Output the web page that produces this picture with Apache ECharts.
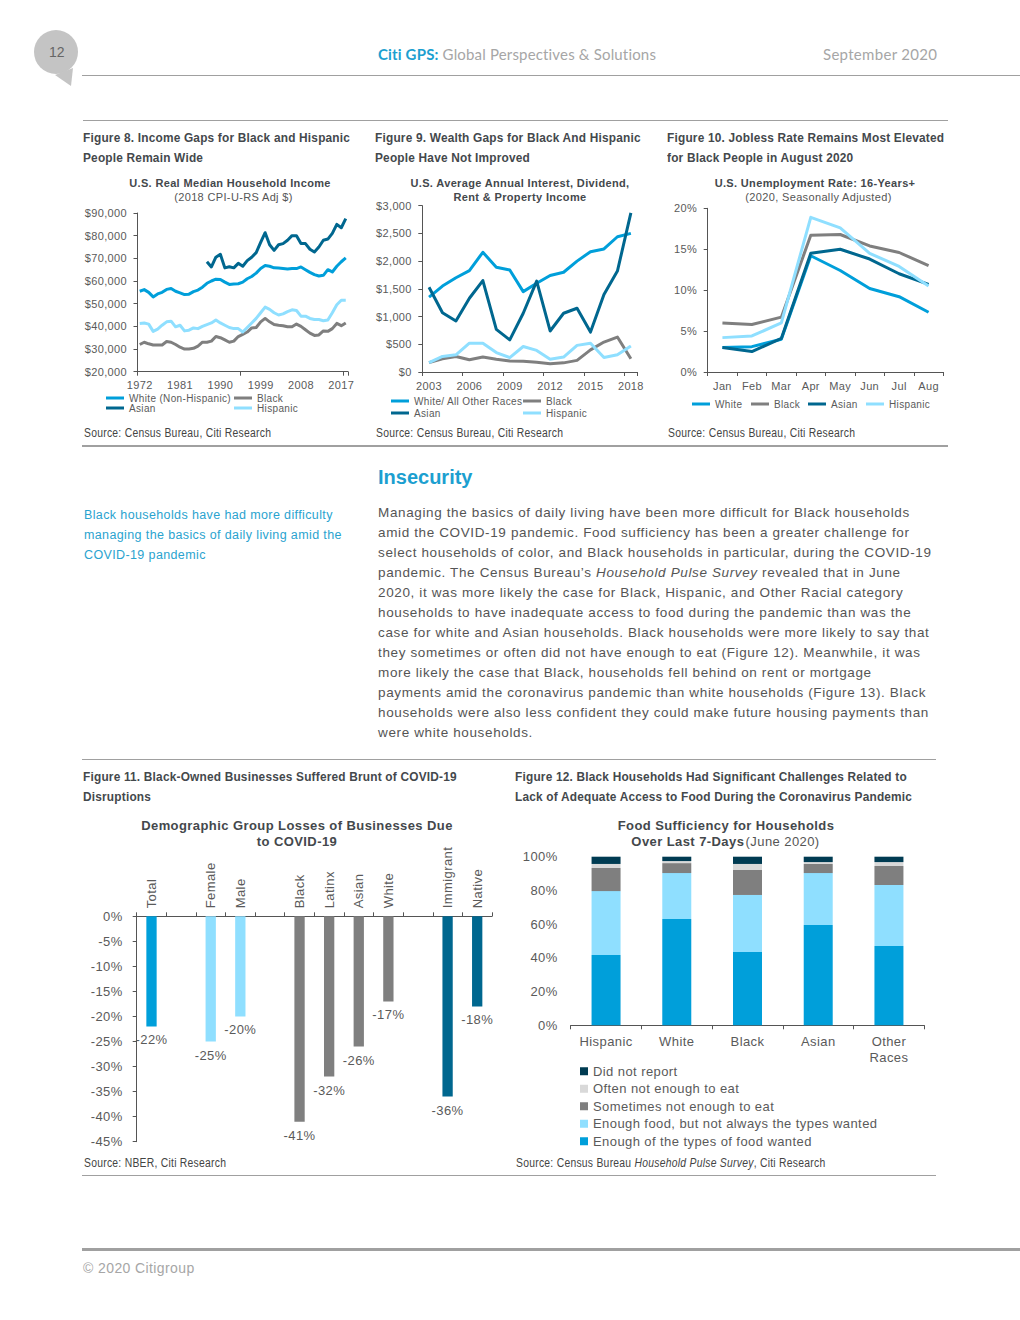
<!DOCTYPE html>
<html>
<head>
<meta charset="utf-8">
<title>Citi GPS - September 2020</title>
<script src="https://cdn.jsdelivr.net/npm/echarts@6/dist/echarts.min.js"></script>
<style>
  html, body { margin: 0; padding: 0; background: #fff; }
  #page { position: relative; width: 1020px; height: 1320px; overflow: hidden; font-family: "Liberation Sans", Arial, sans-serif; color: #555; }
  #page > div { position: absolute; white-space: nowrap; }
  .rule { background: #a0a0a0; height: 1px; }
  .fig { font: bold 13px/20px "Liberation Sans", sans-serif; color: #44484c; letter-spacing: .22px; transform: scaleX(.912); transform-origin: left top; }
  .src { font: 12px/14px "Liberation Sans", sans-serif; color: #444; letter-spacing: .3px; transform: scaleX(.863); transform-origin: left top; }
  .side { font-size: 12.5px; line-height: 20px; color: #2aa3cf; letter-spacing: .38px; }
  .body { font-size: 13.5px; line-height: 20px; color: #555; letter-spacing: .63px; }
  .top { letter-spacing: .35px; }
  .low { letter-spacing: .42px; }
</style>
</head>
<body>
<div id="page">
  <svg style="position:absolute;left:0;top:0" width="100" height="100">
    <circle cx="56" cy="52" r="22" fill="#c4c4c4"></circle>
    <polygon points="55,75 73,68 71,86" fill="#c4c4c4"></polygon>
  </svg>
  <div style="left:49px;top:44px;font-size:14px;color:#666">12</div>
  <div style="left:378px;top:44px;font:15px/20px Lato,sans-serif;color:#a6a6a6;letter-spacing:.17px"><b style="color:#1c9fd0">Citi GPS:</b> Global Perspectives &amp; Solutions</div>
  <div style="left:823px;top:44px;font:15px/20px Lato,sans-serif;color:#a6a6a6;letter-spacing:.3px">September 2020</div>
  <div class="rule" style="left:82px;top:75px;width:938px"></div>
  <div class="rule" style="left:83px;top:120px;width:865px"></div>

  <div class="fig" style="left:83px;top:128px">Figure 8. Income Gaps for Black and Hispanic<br>People Remain Wide</div>
  <div class="fig" style="left:375px;top:128px">Figure 9. Wealth Gaps for Black And Hispanic<br>People Have Not Improved</div>
  <div class="fig" style="left:667px;top:128px">Figure 10. Jobless Rate Remains Most Elevated<br>for Black People in August 2020</div>

  <div id="chartIncome" class="top" style="left:80px;top:170px;width:285px;height:255px"></div>
  <div id="chartWealth" class="top" style="left:370px;top:170px;width:285px;height:255px"></div>
  <div id="chartJobless" class="top" style="left:660px;top:170px;width:290px;height:255px"></div>

  <div class="src" style="left:84px;top:426px">Source: Census Bureau, Citi Research</div>
  <div class="src" style="left:376px;top:426px">Source: Census Bureau, Citi Research</div>
  <div class="src" style="left:668px;top:426px">Source: Census Bureau, Citi Research</div>
  <div class="rule" style="left:82px;top:445px;width:866px;height:2px"></div>

  <div style="left:378px;top:465px;font-size:20px;line-height:24px;font-weight:bold;color:#1c9fd0">Insecurity</div>
  <div class="side" style="left:84px;top:505px">Black households have had more difficulty<br>managing the basics of daily living amid the<br>COVID-19 pandemic</div>
  <div class="body" style="left:378px;top:503px">Managing the basics of daily living have been more difficult for Black households<br>amid the COVID-19 pandemic. Food sufficiency has been a greater challenge for<br>select households of color, and Black households in particular, during the COVID-19<br>pandemic. The Census Bureau’s <i>Household Pulse Survey</i> revealed that in June<br>2020, it was more likely the case for Black, Hispanic, and Other Racial category<br>households to have inadequate access to food during the pandemic than was the<br>case for white and Asian households. Black households were more likely to say that<br>they sometimes or often did not have enough to eat (Figure 12). Meanwhile, it was<br>more likely the case that Black, households fell behind on rent or mortgage<br>payments amid the coronavirus pandemic than white households (Figure 13). Black<br>households were also less confident they could make future housing payments than<br>were white households.</div>
  <div class="rule" style="left:82px;top:759px;width:854px"></div>

  <div class="fig" style="left:83px;top:767px">Figure 11. Black-Owned Businesses Suffered Brunt of COVID-19<br>Disruptions</div>
  <div class="fig" style="left:515px;top:767px">Figure 12. Black Households Had Significant Challenges Related to<br>Lack of Adequate Access to Food During the Coronavirus Pandemic</div>

  <div id="chartLosses" class="low" style="left:80px;top:810px;width:420px;height:345px"></div>
  <div id="chartFood" class="low" style="left:510px;top:810px;width:430px;height:345px"></div>

  <div class="src" style="left:84px;top:1156px">Source: NBER, Citi Research</div>
  <div class="src" style="left:516px;top:1156px">Source: Census Bureau <i>Household Pulse Survey</i>, Citi Research</div>
  <div class="rule" style="left:82px;top:1175px;width:854px"></div>
  <div class="rule" style="left:82px;top:1248px;width:938px;height:3px"></div>
  <div style="left:83px;top:1259px;font-size:14px;line-height:18px;color:#a6a6a6;letter-spacing:.4px">© 2020 Citigroup</div>
</div>

<script>
// Figure 8, thousands of 2018 dollars
var incomeYears = [];
for (var y = 1972; y <= 2018; y++) incomeYears.push(String(y));
var incomeWhite = [55.5,56.2,55,53,54.3,55,56.3,56.7,55.5,54.8,54,54.2,55.3,56,57.3,59,60,60.8,60.7,59.5,58.5,58.7,58.8,59.5,61,62,63.5,65.5,66.8,66.5,65.8,65.7,65.5,65.3,65.5,65.5,66.2,65,63.8,62.8,62.2,62.5,65,64,66.5,68.5,70.2];
var incomeBlack = [32,33,32.3,31.8,31.8,31.8,33.3,33,32,30.8,30,30,30.3,31.3,33,33,33.5,35.5,35,34,33,33.5,35.5,36.5,37.5,39.3,39.5,42,43.5,42,40.8,40.5,40.3,39.8,39.8,41,40,38.5,37,36,36.2,38,37.8,39,41.3,40.3,41.5];
var incomeAsian = [null,null,null,null,null,null,null,null,null,null,null,null,null,null,null,68.5,66.2,70.5,71.8,65.8,66.3,65.8,67.8,66.5,69,70.5,72.5,77,81.3,76,73.5,76,76.5,78,80,80,76.5,76.5,74,72.8,75,78,78.5,81,85,83.5,87.5];
var incomeHispanic = [41.3,41.5,41,37.8,38.8,40.5,42,42.3,39.8,40.5,38,38.3,39.3,39,40,40.8,41.5,42.8,41.5,40.5,39.5,39,39,37.5,39.5,41.5,43.5,46,48.5,47.5,46,45,45.5,46.5,47.3,47,44.5,44.5,43.5,43,43,42.5,42.8,46,49.5,51.5,51.5];

// Figure 9, dollars
var wealthYears = ["2003","2004","2005","2006","2007","2008","2009","2010","2011","2012","2013","2014","2015","2016","2017","2018"];
var wealthWhite = [1350,1550,1700,1830,2160,1890,1840,1450,1600,1740,1800,2000,2170,2220,2440,2500];
var wealthBlack = [170,240,280,220,270,230,200,195,175,150,165,210,400,540,630,240];
var wealthAsian = [1530,1070,920,1330,1650,770,580,1060,1640,740,1060,1150,720,1400,1820,2870];
var wealthHispanic = [170,280,310,520,520,350,260,460,390,230,270,480,520,260,310,470];

// Figure 10, percent
var joblessMonths = ["Jan","Feb","Mar","Apr","May","Jun","Jul","Aug"];
var joblessWhite = [3.0,3.1,4.0,14.2,12.4,10.2,9.2,7.3];
var joblessBlack = [6.0,5.8,6.7,16.7,16.8,15.4,14.6,13.0];
var joblessAsian = [3.0,2.5,4.1,14.5,15.0,13.8,12.0,10.7];
var joblessHispanic = [4.2,4.4,6.0,18.9,17.6,14.5,12.9,10.5];

// Figure 11, percent (blank categories are the gaps between groups)
var lossGroups = ["Total","","Female","Male","","Black","Latinx","Asian","White","","Immigrant","Native"];
var lossValues = [-22,null,-25,-20,null,-41,-32,-26,-17,null,-36,-18];

// Figure 12, percent
var foodGroups = ["Hispanic","White","Black","Asian","Other\nRaces"];
var foodEnough = [41.7,63,43.5,59.5,47];
var foodNotTypes = [37.9,27.3,33.8,30.8,36.2];
var foodSometimes = [13.7,5.9,14.8,5.4,11.3];
var foodOften = [2.4,1.2,3.6,1.1,2.3];
var foodNoReport = [4.3,2.6,4.3,3.2,3.2];

var BLUE = "#009fda", GRAY = "#7f7f7f", DARK = "#00678f", LIGHT = "#8fdfff", NAVY = "#003b52", PALE = "#d9d9d9";
var AXIS = "#555", LABEL = "#5a5a5a", FONT = "Liberation Sans";
var lossColors = [BLUE,BLUE,LIGHT,LIGHT,GRAY,GRAY,GRAY,GRAY,GRAY,DARK,DARK,DARK];

function titleBlock(x, top, lines, fontSize, lineGap) {
  return {
    left: x, top: top, textAlign: "center", padding: 0,
    text: lines,
    textStyle: {
      rich: {
        b: { fontFamily: FONT, fontSize: fontSize, fontWeight: "bold", color: "#44484c", lineHeight: fontSize + lineGap, align: "center" },
        r: { fontFamily: FONT, fontSize: fontSize, fontWeight: "normal", color: "#555", lineHeight: fontSize + lineGap, padding: [0, 0, 0, 7] }
      }
    }
  };
}

function lineLegend(name, x, y) {
  return {
    left: x, top: y, data: [name], icon: "rect", itemWidth: 18, itemHeight: 3,
    padding: 0, selectedMode: false,
    textStyle: { fontFamily: FONT, fontSize: 10, color: LABEL }
  };
}

function lineSeries(name, color, data) {
  return {
    name: name, type: "line", data: data, color: color, showSymbol: false, silent: true,
    lineStyle: { width: 3, color: color, join: "round" }, animation: false
  };
}

function lineChart(id, cfg) {
  var chart = echarts.init(document.getElementById(id), null, { renderer: "svg" });
  chart.setOption({
    animation: false,
    title: cfg.title,
    legend: cfg.legend,
    grid: cfg.grid,
    xAxis: {
      type: "category", data: cfg.categories, boundaryGap: true,
      axisLine: { lineStyle: { color: AXIS } },
      axisTick: { show: true, length: 4, interval: cfg.tickEvery, lineStyle: { color: AXIS } },
      axisLabel: { interval: cfg.labelEvery, fontFamily: FONT, fontSize: 11, color: LABEL, margin: 8, hideOverlap: false }
    },
    yAxis: {
      type: "value", min: cfg.min, max: cfg.max, interval: cfg.step,
      splitLine: { show: false },
      axisLine: { show: true, lineStyle: { color: AXIS } },
      axisTick: { show: true, length: 4, lineStyle: { color: AXIS } },
      axisLabel: { formatter: cfg.format, fontFamily: FONT, fontSize: 11, color: LABEL, margin: 10.5 }
    },
    series: cfg.series
  });
}

lineChart("chartIncome", {
  title: titleBlock(150, 6, "{b|U.S. Real Median Household Income}\n{r|(2018 CPI-U-RS Adj $)}", 11, 3),
  legend: [
    lineLegend("White (Non-Hispanic)", 26, 223),
    lineLegend("Black", 154, 223),
    lineLegend("Asian", 26, 233),
    lineLegend("Hispanic", 154, 233)
  ],
  grid: { left: 57.5, top: 43, width: 210.5, height: 158.7 },
  categories: incomeYears,
  tickEvery: function (i) { return i % 23 === 0; },
  labelEvery: function (i) { return i % 9 === 0; },
  min: 20, max: 90, step: 10,
  format: function (v) { return "$" + v + ",000"; },
  series: [
    lineSeries("White (Non-Hispanic)", BLUE, incomeWhite),
    lineSeries("Black", GRAY, incomeBlack),
    lineSeries("Asian", DARK, incomeAsian),
    lineSeries("Hispanic", LIGHT, incomeHispanic)
  ]
});

lineChart("chartWealth", {
  title: titleBlock(150, 6, "{b|U.S. Average Annual Interest, Dividend,}\n{b|Rent & Property Income}", 11, 3),
  legend: [
    lineLegend("White/ All Other Races", 21, 226),
    lineLegend("Black", 153, 226),
    lineLegend("Asian", 21, 238),
    lineLegend("Hispanic", 153, 238)
  ],
  grid: { left: 52.3, top: 35.7, width: 215.3, height: 166.3 },
  categories: wealthYears,
  tickEvery: function (i) { return i % 3 === 0; },
  labelEvery: function (i) { return i % 3 === 0; },
  min: 0, max: 3000, step: 500,
  format: function (v) { return "$" + (v >= 1000 ? Math.floor(v / 1000) + "," + String(v % 1000).padStart(3, "0") : v); },
  series: [
    lineSeries("White/ All Other Races", BLUE, wealthWhite),
    lineSeries("Black", GRAY, wealthBlack),
    lineSeries("Asian", DARK, wealthAsian),
    lineSeries("Hispanic", LIGHT, wealthHispanic)
  ]
});

lineChart("chartJobless", {
  title: titleBlock(155, 6, "{b|U.S. Unemployment Rate: 16-Years+}\n{r|(2020, Seasonally Adjusted)}", 11, 3),
  legend: [
    lineLegend("White", 32, 229),
    lineLegend("Black", 91, 229),
    lineLegend("Asian", 148, 229),
    lineLegend("Hispanic", 206, 229)
  ],
  grid: { left: 47.7, top: 38.3, width: 235.6, height: 163.7 },
  categories: joblessMonths,
  tickEvery: 0,
  labelEvery: 0,
  min: 0, max: 20, step: 5,
  format: "{value}%",
  series: [
    lineSeries("White", BLUE, joblessWhite),
    lineSeries("Black", GRAY, joblessBlack),
    lineSeries("Asian", DARK, joblessAsian),
    lineSeries("Hispanic", LIGHT, joblessHispanic)
  ]
});

// Figure 11
echarts.init(document.getElementById("chartLosses"), null, { renderer: "svg" }).setOption({
  animation: false,
  title: titleBlock(217, 7, "{b|Demographic Group Losses of Businesses Due}\n{b|to COVID-19}", 13, 3),
  grid: { left: 56.7, top: 106.3, width: 355.3, height: 225.4 },
  xAxis: {
    type: "category", position: "top", data: lossGroups,
    axisLine: { onZero: true, lineStyle: { color: AXIS } },
    axisTick: { show: true, length: 4, interval: 0, lineStyle: { color: AXIS } },
    axisLabel: { interval: 0, rotate: 90, fontFamily: FONT, fontSize: 13, color: LABEL, margin: 8 }
  },
  yAxis: {
    type: "value", min: -45, max: 0, interval: 5,
    splitLine: { show: false },
    axisLine: { show: true, lineStyle: { color: AXIS } },
    axisTick: { show: true, length: 4, lineStyle: { color: AXIS } },
    axisLabel: { formatter: "{value}%", fontFamily: FONT, fontSize: 13, color: LABEL, margin: 14 }
  },
  series: [{
    type: "bar", data: lossValues, barWidth: 10.3, silent: true,
    itemStyle: { color: function (p) { return lossColors[p.dataIndex]; } },
    label: { show: true, position: "bottom", distance: 7, formatter: "{c}%", fontFamily: FONT, fontSize: 13, color: LABEL }
  }]
});

// Figure 12
function foodSeries(name, color, data) {
  return { name: name, type: "bar", stack: "food", data: data, barWidth: 29, silent: true, itemStyle: { color: color } };
}

echarts.init(document.getElementById("chartFood"), null, { renderer: "svg" }).setOption({
  animation: false,
  title: titleBlock(216, 7, "{b|Food Sufficiency for Households}\n{b|Over Last 7-Days}{r|(June 2020)}", 13, 3),
  legend: {
    orient: "vertical", left: 70, top: 254, padding: 0, icon: "rect", itemWidth: 8, itemHeight: 8, itemGap: 3,
    selectedMode: false,
    data: ["Did not report","Often not enough to eat","Sometimes not enough to eat","Enough food, but not always the types wanted","Enough of the types of food wanted"],
    textStyle: { fontFamily: FONT, fontSize: 13, lineHeight: 14.5, color: LABEL }
  },
  grid: { left: 60.7, top: 46.7, width: 353.6, height: 168.6 },
  xAxis: {
    type: "category", data: foodGroups,
    axisLine: { lineStyle: { color: AXIS } },
    axisTick: { show: true, length: 4, interval: 0, inside: false, lineStyle: { color: AXIS } },
    axisLabel: { interval: 0, fontFamily: FONT, fontSize: 13, lineHeight: 16, color: LABEL, margin: 8 }
  },
  yAxis: {
    type: "value", min: 0, max: 100, interval: 20,
    splitLine: { show: false }, axisLine: { show: false }, axisTick: { show: false },
    axisLabel: { formatter: "{value}%", fontFamily: FONT, fontSize: 13, color: LABEL, margin: 13 }
  },
  series: [
    foodSeries("Enough of the types of food wanted", BLUE, foodEnough),
    foodSeries("Enough food, but not always the types wanted", LIGHT, foodNotTypes),
    foodSeries("Sometimes not enough to eat", GRAY, foodSometimes),
    foodSeries("Often not enough to eat", PALE, foodOften),
    foodSeries("Did not report", NAVY, foodNoReport)
  ]
});
</script>
</body>
</html>
